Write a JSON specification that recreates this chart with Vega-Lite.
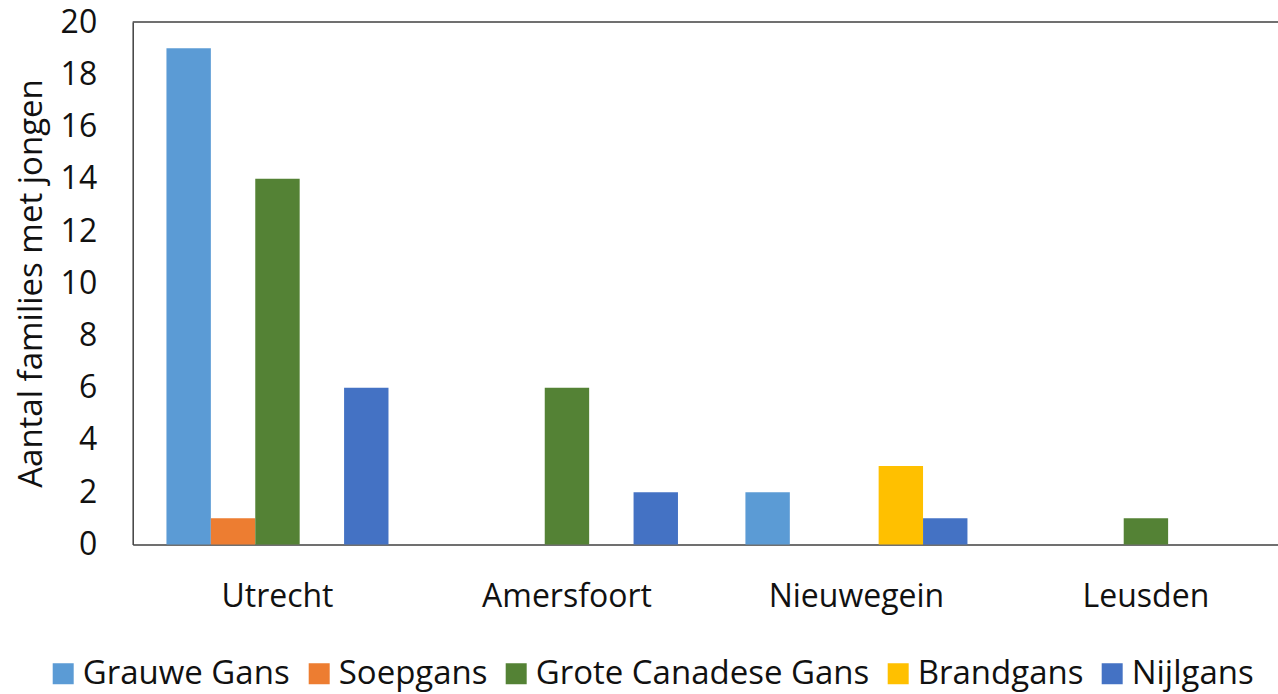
{
  "$schema": "https://vega.github.io/schema/vega-lite/v6.json",
  "autosize": "none",
  "width": 1146,
  "height": 522.5,
  "padding": {"left": 132.7, "top": 22, "right": 0, "bottom": 149.5},
  "background": "white",
  "config": {"view": {"stroke": null}, "font": "Open Sans"},
  "layer": [
    {
      "data": {"values": [
        {"stad": "Utrecht", "soort": "Grauwe Gans", "aantal": 19},
        {"stad": "Utrecht", "soort": "Soepgans", "aantal": 1},
        {"stad": "Utrecht", "soort": "Grote Canadese Gans", "aantal": 14},
        {"stad": "Utrecht", "soort": "Brandgans", "aantal": 0},
        {"stad": "Utrecht", "soort": "Nijlgans", "aantal": 6},
        {"stad": "Amersfoort", "soort": "Grauwe Gans", "aantal": 0},
        {"stad": "Amersfoort", "soort": "Soepgans", "aantal": 0},
        {"stad": "Amersfoort", "soort": "Grote Canadese Gans", "aantal": 6},
        {"stad": "Amersfoort", "soort": "Brandgans", "aantal": 0},
        {"stad": "Amersfoort", "soort": "Nijlgans", "aantal": 2},
        {"stad": "Nieuwegein", "soort": "Grauwe Gans", "aantal": 2},
        {"stad": "Nieuwegein", "soort": "Soepgans", "aantal": 0},
        {"stad": "Nieuwegein", "soort": "Grote Canadese Gans", "aantal": 0},
        {"stad": "Nieuwegein", "soort": "Brandgans", "aantal": 3},
        {"stad": "Nieuwegein", "soort": "Nijlgans", "aantal": 1},
        {"stad": "Leusden", "soort": "Grauwe Gans", "aantal": 0},
        {"stad": "Leusden", "soort": "Soepgans", "aantal": 0},
        {"stad": "Leusden", "soort": "Grote Canadese Gans", "aantal": 1},
        {"stad": "Leusden", "soort": "Brandgans", "aantal": 0},
        {"stad": "Leusden", "soort": "Nijlgans", "aantal": 0}
      ]},
      "mark": {"type": "bar"},
      "encoding": {
        "x": {
          "field": "stad", "type": "nominal",
          "sort": ["Utrecht", "Amersfoort", "Nieuwegein", "Leusden"],
          "scale": {"range": [0, 1158], "paddingInner": 0.233, "paddingOuter": 0.1166},
          "axis": {
            "title": null, "labelAngle": 0, "ticks": false, "tickSize": 0,
            "labelFontSize": 32, "labelColor": "#111", "labelBaseline": "alphabetic",
            "labelPadding": 62.5, "domainColor": "#404040", "domainWidth": 1.5, "grid": false
          }
        },
        "xOffset": {"field": "soort", "type": "nominal",
          "sort": ["Grauwe Gans", "Soepgans", "Grote Canadese Gans", "Brandgans", "Nijlgans"]},
        "y": {
          "field": "aantal", "type": "quantitative",
          "scale": {"domain": [0, 20], "nice": false},
          "axis": {
            "values": [0, 2, 4, 6, 8, 10, 12, 14, 16, 18, 20],
            "ticks": false, "tickSize": 0, "grid": false,
            "labelFontSize": 32, "labelColor": "#111", "labelPadding": 36,
            "domainColor": "#404040", "domainWidth": 1.5,
            "title": "Aantal families met jongen", "titleFontSize": 33,
            "titleFontWeight": "normal", "titleColor": "#111",
            "titleAngle": -90, "titleBaseline": "alphabetic", "titleAlign": "center",
            "titleX": -91, "titleY": 261
          }
        },
        "color": {
          "field": "soort", "type": "nominal",
          "scale": {
            "domain": ["Grauwe Gans", "Soepgans", "Grote Canadese Gans", "Brandgans", "Nijlgans"],
            "range": ["#5B9BD5", "#ED7D31", "#548235", "#FFC000", "#4472C4"]
          },
          "legend": {
            "title": null, "orient": "none", "direction": "horizontal",
            "legendX": -86, "legendY": 635, "padding": 0,
            "symbolType": "square", "symbolSize": 441, "symbolStrokeWidth": 0,
            "labelFontSize": 33, "labelColor": "#111", "labelOffset": 3, "labelLimit": 0,
            "columnPadding": 12, "columns": 5
          }
        }
      }
    },
    {
      "data": {"values": [{}]},
      "mark": {"type": "rule", "color": "#404040", "strokeWidth": 1.5},
      "encoding": {"y": {"datum": 20}}
    }
  ]
}
